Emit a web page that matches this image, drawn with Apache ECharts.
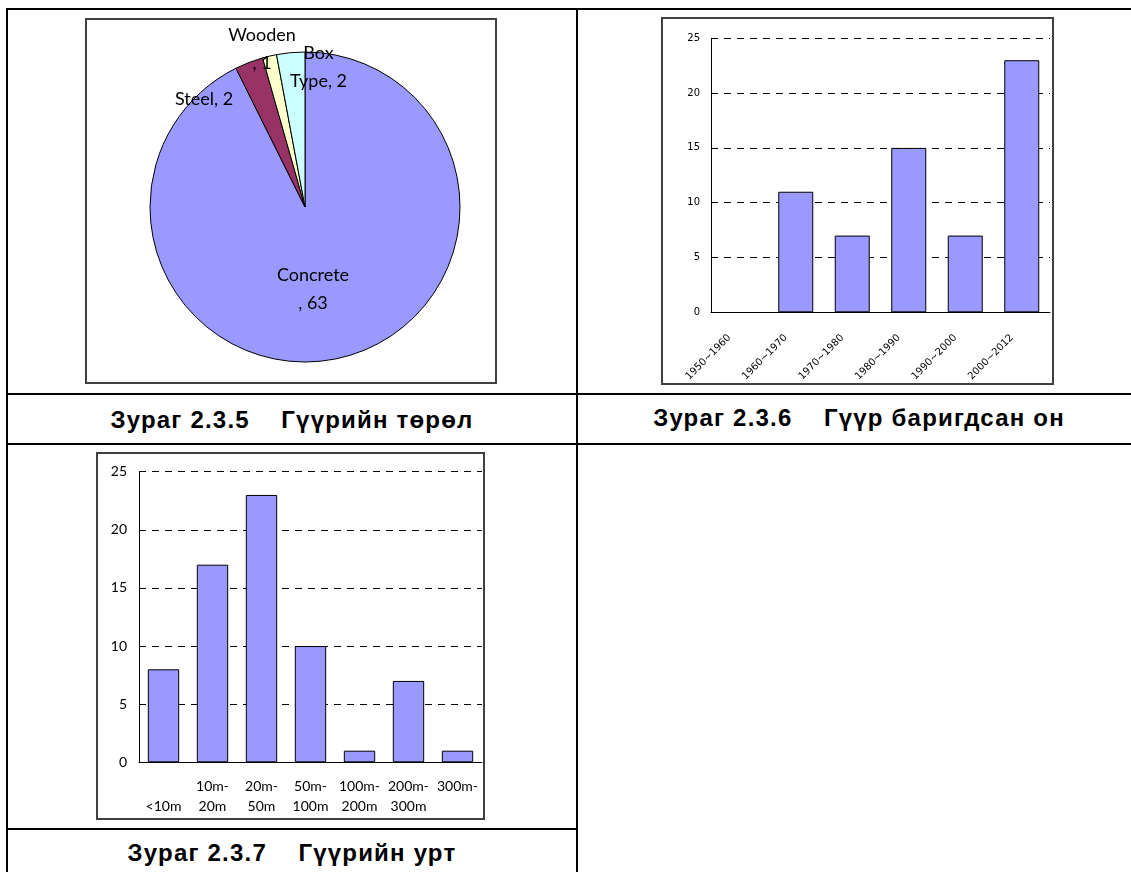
<!DOCTYPE html>
<html><head><meta charset="utf-8">
<script src="https://cdn.jsdelivr.net/npm/echarts@6/dist/echarts.min.js"></script>
<style>
html,body{margin:0;padding:0;background:#fff;width:1131px;height:872px;overflow:hidden;position:relative}
.ln{position:absolute;background:#000}
.fr{position:absolute;border:2px solid #404040;box-sizing:border-box}
.cap{position:absolute;text-align:center;font:bold 24px "Liberation Sans",Arial,sans-serif;letter-spacing:1.2px;white-space:pre;color:#000;line-height:28px}
#c{position:absolute;left:0;top:0;width:1131px;height:872px}
</style></head><body>
<div class="ln" style="left:6px;top:8px;width:1125px;height:2px"></div>
<div class="ln" style="left:6px;top:8px;width:2px;height:864px"></div>
<div class="ln" style="left:576px;top:8px;width:2px;height:864px"></div>
<div class="ln" style="left:6px;top:393px;width:1125px;height:2px"></div>
<div class="ln" style="left:6px;top:443px;width:1125px;height:2px"></div>
<div class="ln" style="left:6px;top:828px;width:572px;height:2px"></div>
<div class="fr" style="left:85px;top:18px;width:412px;height:366px"></div>
<div class="fr" style="left:661px;top:17px;width:393px;height:368px"></div>
<div class="fr" style="left:96px;top:452px;width:389px;height:368px"></div>
<div class="cap" style="left:8px;width:568px;top:406px">Зураг 2.3.5    Гүүрийн төрөл</div>
<div class="cap" style="left:578px;width:562px;top:404px">Зураг 2.3.6    Гүүр баригдсан он</div>
<div class="cap" style="left:8px;width:568px;top:839px">Зураг 2.3.7    Гүүрийн урт</div>
<div id="c"></div>
<script>
// ---- data ----
const pieCategories = ['Concrete', 'Steel', 'Wooden', 'Box Type'];
const pieValues = [63, 2, 1, 2];
const yearCategories = ['1950~1960', '1960~1970', '1970~1980', '1980~1990', '1990~2000', '2000~2012'];
const yearValues = [0, 11, 7, 15, 7, 23];
const lengthCategories = ['<10m', '10m-20m', '20m-50m', '50m-100m', '100m-200m', '200m-300m', '300m-'];
const lengthValues = [8, 17, 23, 10, 1, 7, 1];
const countAxisMax = 25;
const countAxisStep = 5;

// ---- styling / layout ----
const pieColors = ['#9999FF', '#993366', '#FFFFCC', '#CCFFFF'];
const pieCenter = [305, 207];
const pieRadius = 155;
// label placement relative to pie center (Excel "best fit" look)
const pieLabelOffsets = [[8, 82.5], [-101, -108], [-43, -158], [13.5, -139.5]];
function pieLabelText(name, value, i) {
  if (i === 1) return name + ', ' + value;
  if (i === 3) return name.replace(' ', '\n') + ', ' + value;
  return name + '\n, ' + value;
}
const dash = [7, 6];
const barStyle = {color: '#9999FF', borderColor: '#000', borderWidth: 1};
function barData(values) {
  return values.map(function (v) {
    return v === 0 ? {value: v, itemStyle: {borderWidth: 0}} : v;
  });
}
const chart = echarts.init(document.getElementById('c'));

function valueAxis(gridIndex, font, size, margin) {
  return {
    type: 'value', gridIndex: gridIndex, min: 0, max: countAxisMax, interval: countAxisStep,
    axisLine: {show: true, lineStyle: {color: '#000', width: 1}},
    axisTick: {show: false},
    axisLabel: {color: '#000', fontFamily: font, fontSize: size, margin: margin},
    splitLine: {show: true, lineStyle: {color: '#000', width: 1, type: dash}}
  };
}

chart.setOption({
  animation: false,
  grid: [
    {left: 711, top: 38.3, width: 339, height: 274},
    {left: 139, top: 471.7, width: 343, height: 290.6}
  ],
  xAxis: [
    {
      type: 'category', gridIndex: 0, data: yearCategories,
      axisLine: {lineStyle: {color: '#000', width: 1}},
      axisTick: {inside: true, length: 4, lineStyle: {color: '#000'}},
      axisLabel: {rotate: 45, color: '#000', fontFamily: 'DejaVu Sans', fontSize: 10, margin: 14,
        padding: [0, 14, 0, 0], interval: 0}
    },
    {
      type: 'category', gridIndex: 1, data: lengthCategories,
      axisLine: {lineStyle: {color: '#000', width: 1}},
      axisTick: {inside: true, length: 4, lineStyle: {color: '#000'}},
      axisLabel: {
        color: '#000', fontFamily: 'Lato', fontSize: 14, lineHeight: 20, margin: 14, interval: 0,
        formatter: function (v) {
          const k = v.indexOf('-');
          if (k < 0) return '\n' + v;
          return v.slice(0, k + 1) + '\n' + v.slice(k + 1);
        }
      }
    }
  ],
  yAxis: [
    valueAxis(0, 'DejaVu Sans', 10, 11),
    valueAxis(1, 'Lato', 14, 12)
  ],
  series: [
    {
      type: 'pie', center: pieCenter, radius: pieRadius, startAngle: 90, clockwise: true,
      silent: true,
      data: pieCategories.map(function (n, i) {
        return {name: n, value: pieValues[i], itemStyle: {color: pieColors[i]}};
      }),
      itemStyle: {borderColor: '#000', borderWidth: 1},
      label: {
        show: true, position: 'inside', color: '#000', fontFamily: 'Lato', fontSize: 18, lineHeight: 28,
        align: 'center',
        formatter: function (p) { return pieLabelText(p.name, p.value, p.dataIndex); }
      },
      labelLine: {show: false},
      labelLayout: function (p) {
        const o = pieLabelOffsets[p.dataIndex];
        return {x: pieCenter[0] + o[0], y: pieCenter[1] + o[1], align: 'center', verticalAlign: 'middle'};
      }
    },
    {
      type: 'bar', xAxisIndex: 0, yAxisIndex: 0, data: barData(yearValues), barCategoryGap: '38%',
      itemStyle: barStyle, silent: true
    },
    {
      type: 'bar', xAxisIndex: 1, yAxisIndex: 1, data: barData(lengthValues), barCategoryGap: '36%',
      itemStyle: barStyle, silent: true
    }
  ]
});
</script>
</body></html>
